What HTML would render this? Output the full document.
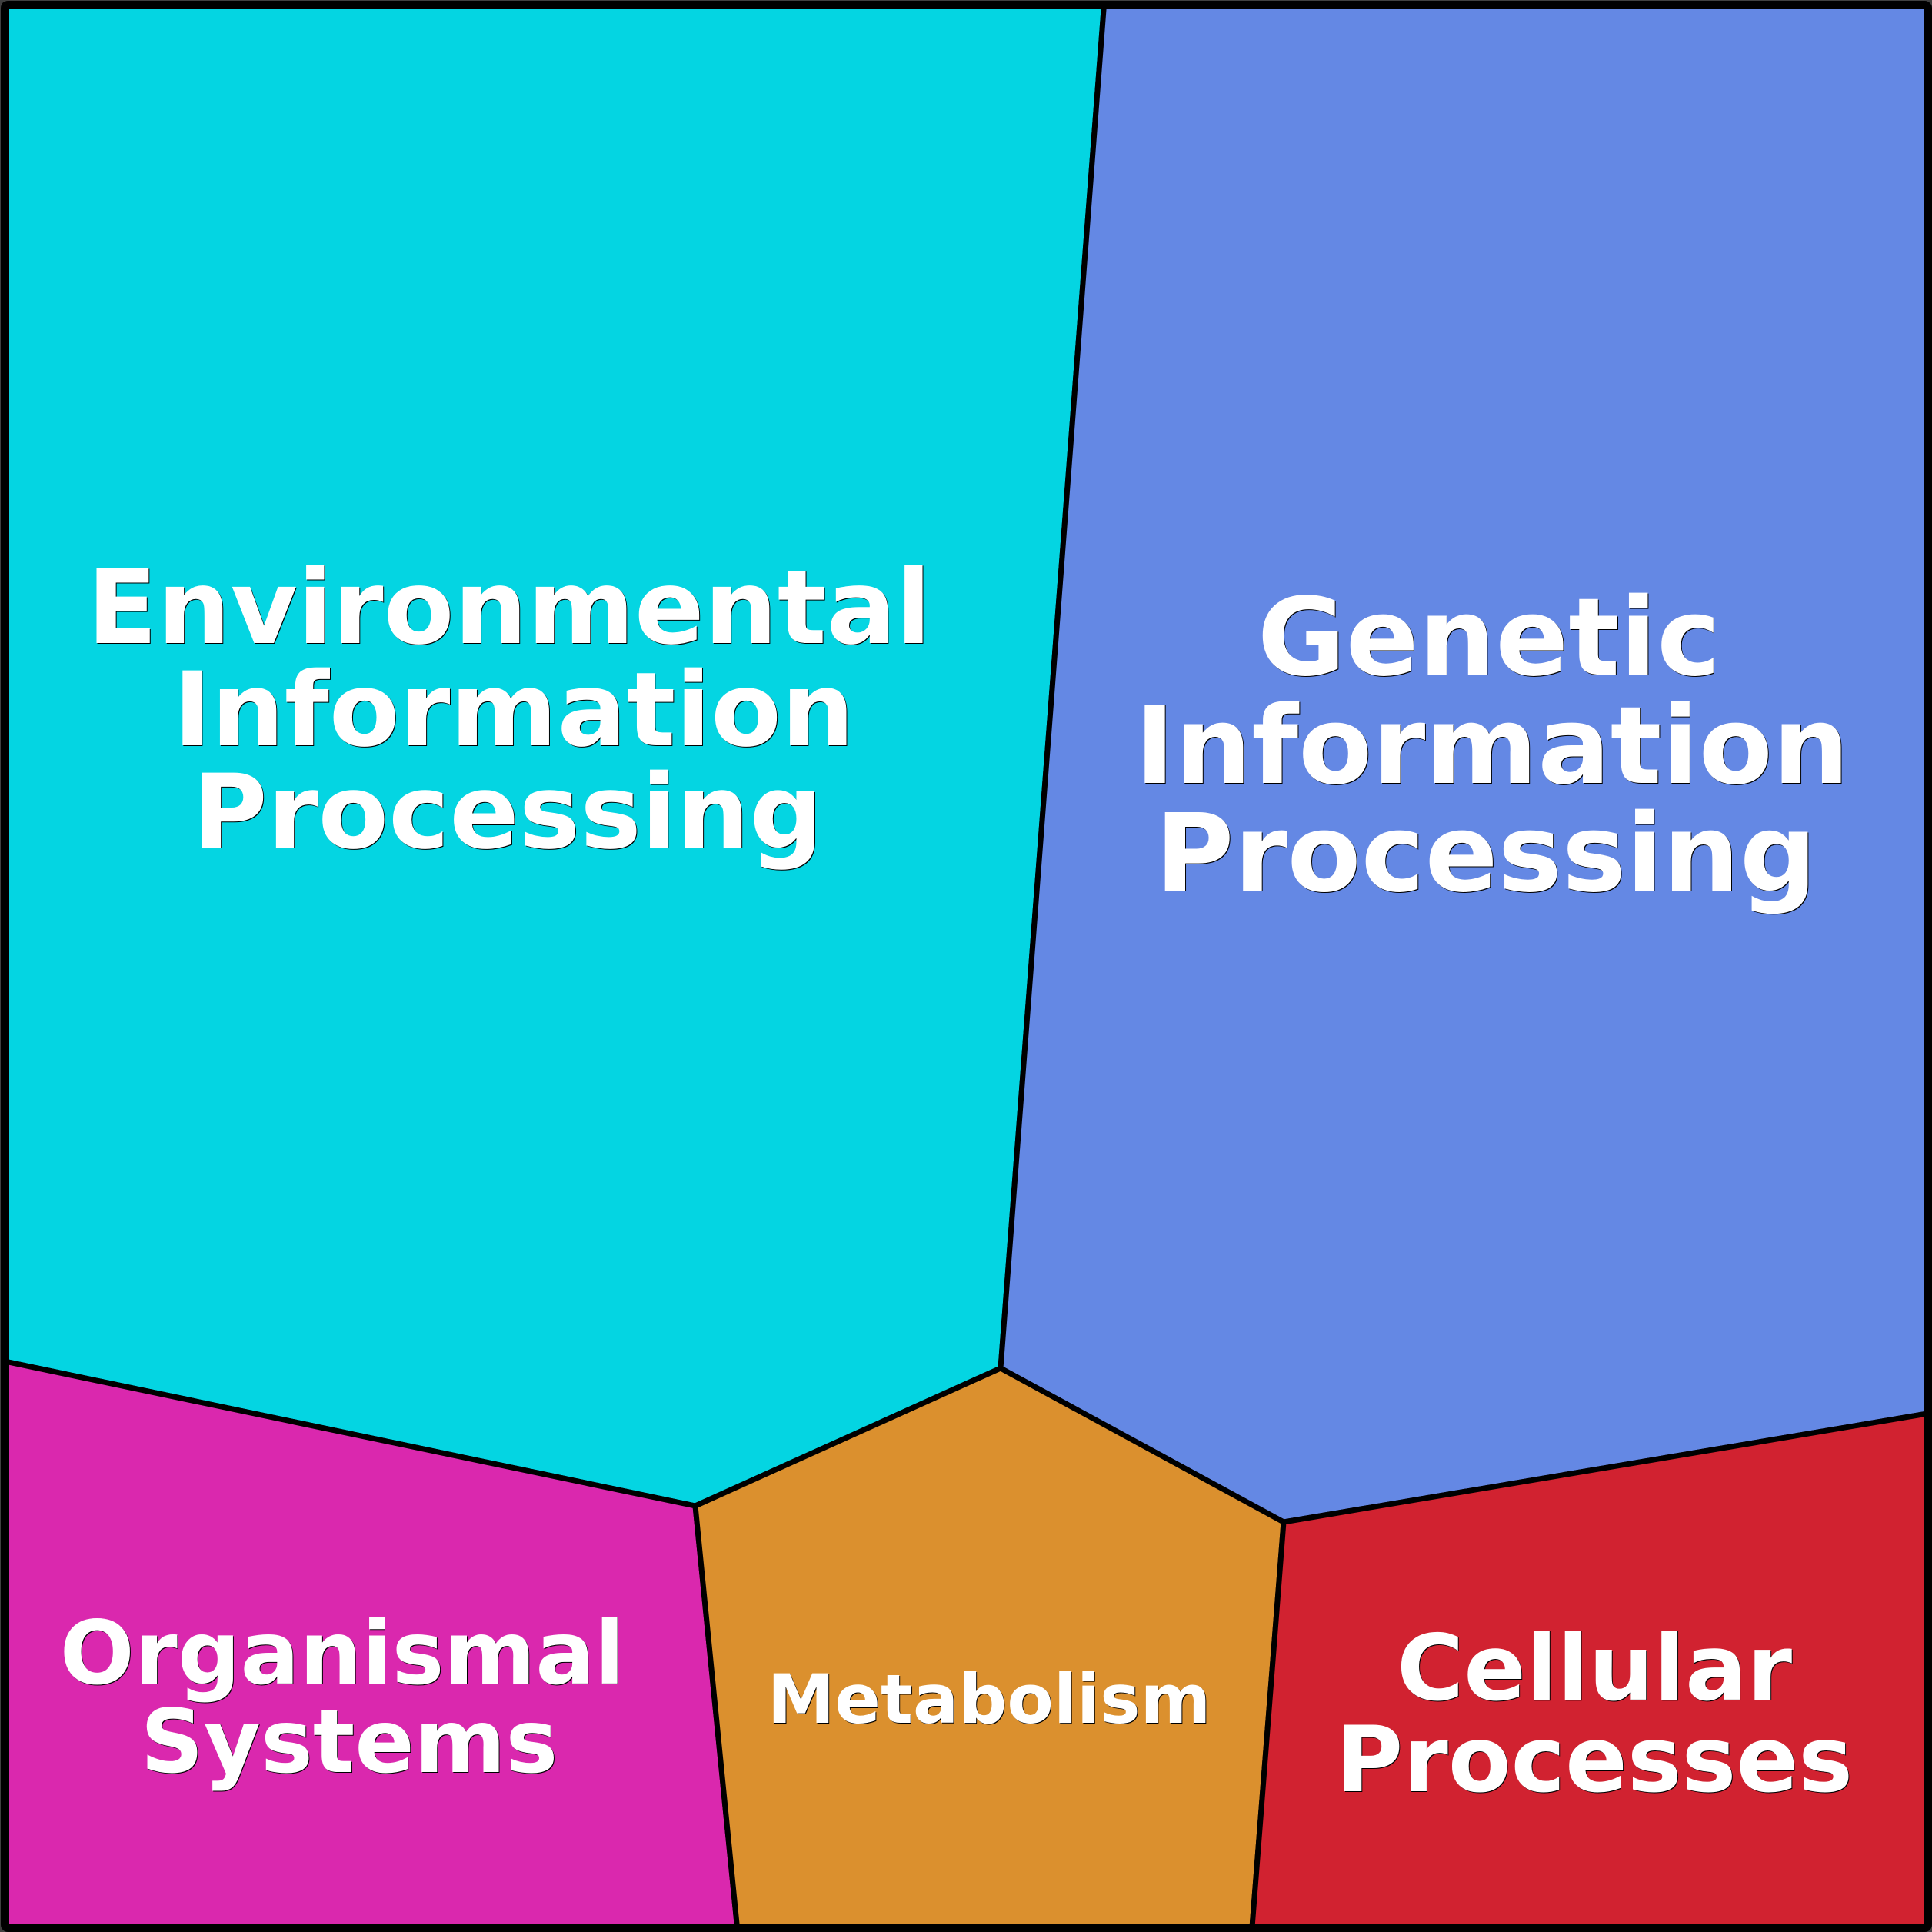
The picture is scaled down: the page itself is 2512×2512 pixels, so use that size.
<!DOCTYPE html>
<html><head><meta charset="utf-8"><style>
html,body{margin:0;padding:0;width:2512px;height:2512px;overflow:hidden;background:#404040}
svg{position:absolute;left:0;top:0}
.t{position:absolute;width:1600px;text-align:center;white-space:nowrap;font-family:"DejaVu Sans",sans-serif;font-weight:700;color:#fff;text-shadow:1px 1px 0 #000}
</style></head><body>
<svg width="2512" height="2512" viewBox="0 0 2512 2512" xmlns="http://www.w3.org/2000/svg">
<g stroke="#000" stroke-width="7" stroke-linejoin="round">
<polygon fill="#04D5E2" points="6,6 1435.5,6 1301,1779 904,1958 6,1770"/>
<polygon fill="#6488E4" points="1435.5,6 2506,6 2506,1838 1669,1979 1301,1779"/>
<polygon fill="#DA28AE" points="6,1770 904,1958 958.5,2506 6,2506"/>
<polygon fill="#DB902E" points="904,1958 1301,1779 1669,1979 1628,2506 958.5,2506"/>
<polygon fill="#D12230" points="1669,1979 2506,1838 2506,2506 1628,2506"/>
</g>
<rect x="6.5" y="6.5" width="2500" height="2500" rx="4" fill="none" stroke="#000" stroke-width="11"/>
</svg>
<div class="t" style="left:-138px;top:724px;font-size:133.7px;line-height:133px">Environmental</div>
<div class="t" style="left:-132px;top:857px;font-size:133.5px;line-height:133px">Information</div>
<div class="t" style="left:-140px;top:990px;font-size:133.5px;line-height:133px">Processing</div>
<div class="t" style="left:1136px;top:760px;font-size:140px;line-height:140px">Genetic</div>
<div class="t" style="left:1140px;top:901px;font-size:140px;line-height:140px">Information</div>
<div class="t" style="left:1132px;top:1041px;font-size:140px;line-height:140px">Processing</div>
<div class="t" style="left:-355px;top:2093px;font-size:114px;line-height:114px">Organismal</div>
<div class="t" style="left:-346px;top:2208px;font-size:114px;line-height:114px">Systems</div>
<div class="t" style="left:486px;top:2166px;font-size:88px;line-height:88px">Metabolism</div>
<div class="t" style="left:1273px;top:2111px;font-size:119px;line-height:119px">Cellular</div>
<div class="t" style="left:1273px;top:2230px;font-size:119px;line-height:119px">Processes</div>
</body></html>
